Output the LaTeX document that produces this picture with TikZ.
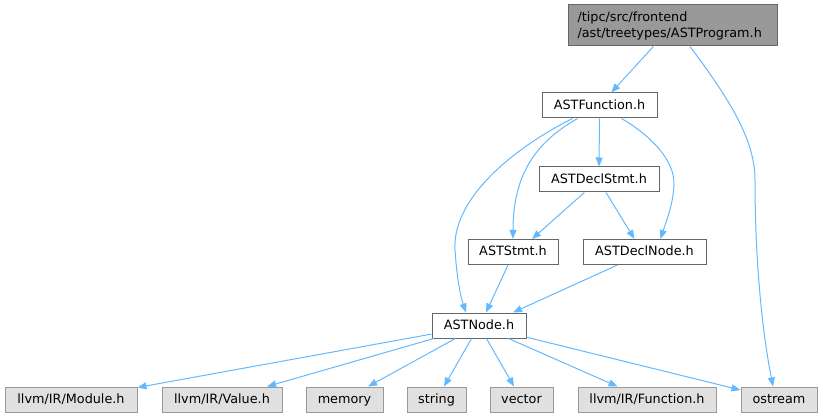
\documentclass[tikz,border=0pt]{standalone}
\usepackage{fontspec}
\setmainfont{DejaVu Sans}
\usetikzlibrary{arrows.meta}
\definecolor{edgec}{HTML}{63B8FF}
\definecolor{rootfill}{HTML}{999999}
\definecolor{darkb}{HTML}{666666}
\definecolor{extfill}{HTML}{E0E0E0}
\definecolor{extb}{HTML}{999999}
\tikzset{
  base/.style={rectangle, line width=1pt, inner sep=0pt, minimum height=25pt, font=\fontsize{12.8}{16}\selectfont, text=black},
  onel/.style={text height=10pt, text depth=2pt},
  plainbox/.style={base, onel, draw=darkb, fill=white},
  extbox/.style={base, onel, draw=extb, fill=extfill},
  rootbox/.style={base, draw=darkb, fill=rootfill, minimum height=41pt, text width=190pt, align=left, inner xsep=9.5pt},
  edge/.style={draw=edgec, line width=1pt, -{Triangle[length=9pt,width=7pt]}}
}
\begin{document}
\begin{tikzpicture}[x=1pt,y=-1pt]
\useasboundingbox (0,0) rectangle (823,417);
% nodes
\node[rootbox] (root) at (672.5,25.5) {/tipc/src/frontend\\/ast/treetypes/ASTProgram.h};
\node[plainbox, minimum width=115pt] (func) at (599.5,105.5) {ASTFunction.h};
\node[plainbox, minimum width=120pt] (declstmt) at (599,179.5) {ASTDeclStmt.h};
\node[plainbox, minimum width=90pt] (stmt) at (513,252) {ASTStmt.h};
\node[plainbox, minimum width=123pt] (declnode) at (644.5,252) {ASTDeclNode.h};
\node[plainbox, minimum width=94pt] (astnode) at (479,325.5) {ASTNode.h};
\node[extbox, minimum width=132pt] (module) at (71,399.5) {llvm/IR/Module.h};
\node[extbox, minimum width=120pt] (value) at (222,399.5) {llvm/IR/Value.h};
\node[extbox, minimum width=77pt] (memory) at (344.5,399.5) {memory};
\node[extbox, minimum width=59pt] (string) at (436.5,399.5) {string};
\node[extbox, minimum width=63pt] (vector) at (521.5,399.5) {vector};
\node[extbox, minimum width=138pt] (function) at (647,399.5) {llvm/IR/Function.h};
\node[extbox, minimum width=76pt] (ostream) at (779,399.5) {ostream};
% edges
\draw[edge] (root) -- (func);
\draw[edge] ([xshift=17.5pt]root.south) .. controls (730,100) and (755,140) .. (755,180) .. controls (755,260) and (762,330) .. ([xshift=-6pt]ostream.north);
\draw[edge] (func) -- (declstmt);
\draw[edge] ([xshift=-22pt]func.south) .. controls (540,140) and (513,170) .. (stmt.north);
\draw[edge] ([xshift=-27pt]func.south) .. controls (510,150) and (452,200) .. (455,250) .. controls (457,280) and (461,298) .. ([xshift=-13pt]astnode.north);
\draw[edge] ([xshift=22pt]func.south) .. controls (650,135) and (675,160) .. (674,185) .. controls (673,205) and (666,222) .. ([xshift=16pt]declnode.north);
\draw[edge] (declstmt) -- ([xshift=19pt]stmt.north);
\draw[edge] ([xshift=7pt]declstmt.south) -- ([xshift=-10pt]declnode.north);
\draw[edge] ([xshift=-5pt]stmt.south) -- ([xshift=7pt]astnode.north);
\draw[edge] ([xshift=-27pt]declnode.south) -- ([xshift=34pt]astnode.north);
\draw[edge] (astnode) -- (module);
\draw[edge] (astnode) -- (value);
\draw[edge] (astnode) -- (memory);
\draw[edge] (astnode) -- (string);
\draw[edge] (astnode) -- (vector);
\draw[edge] (astnode) -- (function);
\draw[edge] (astnode) -- (ostream);
\end{tikzpicture}
\end{document}
